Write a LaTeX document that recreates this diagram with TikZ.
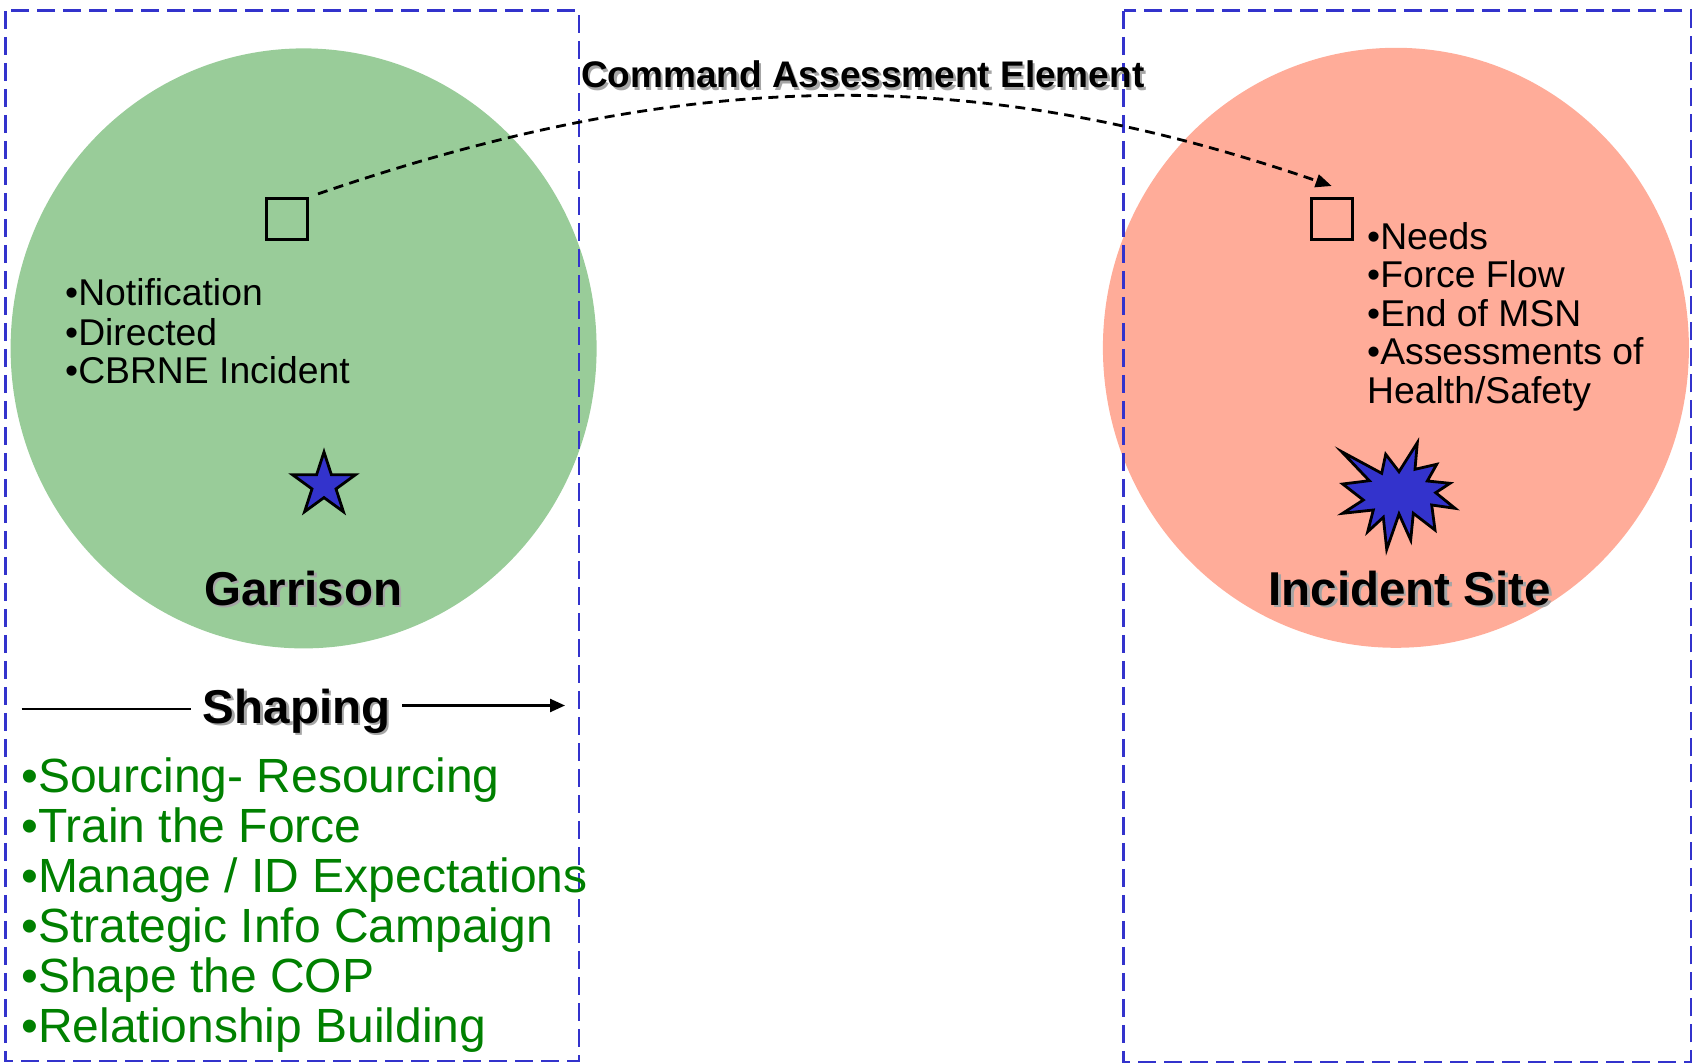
\documentclass[tikz,border=0pt]{standalone}
\usepackage{fontspec}
\setmainfont{Liberation Sans}
\usetikzlibrary{arrows.meta}
\definecolor{boxblue}{RGB}{51,51,204}
\definecolor{garrgreen}{RGB}{153,204,153}
\definecolor{incsalmon}{RGB}{255,172,153}
\definecolor{listgreen}{RGB}{0,128,0}
\definecolor{shadowgray}{RGB}{165,165,165}
\definecolor{burstblue}{RGB}{51,51,204}
\newcommand{\shadowed}[1]{\rlap{\kern2.5pt\raisebox{-2.5pt}{\textcolor{shadowgray}{#1}}}#1}
\begin{document}
\begin{tikzpicture}[x=1pt,y=-1pt,
  zone/.style={draw=boxblue, line width=2.6pt, dash pattern=on 18pt off 8pt},
  cam/.style={draw=black, line width=3pt, rectangle, minimum size=41pt, inner sep=0pt},
  smalltext/.style={anchor=base west, inner sep=0pt, font=\fontsize{37.3}{38}\selectfont},
  greenlist/.style={anchor=base west, inner sep=0pt, text=listgreen, font=\fontsize{48}{50}\selectfont},
  heading/.style={anchor=base, inner sep=0pt, font=\fontsize{47.5}{50}\selectfont\bfseries},
  titletext/.style={anchor=base, inner sep=0pt, font=\fontsize{37}{40}\selectfont\bfseries},
  blast/.style={draw=black, fill=burstblue, line width=2.8pt, line join=miter},
  flow/.style={draw=black, line width=2.8pt, dash pattern=on 10pt off 6.5pt, -{Triangle[length=16pt,width=13pt]}},
  shapeline/.style={draw=black, line width=2.4pt}
]
\useasboundingbox (0,0) rectangle (1694,1064);

% circles
\fill[garrgreen] (303.6,348.4) ellipse [x radius=293pt, y radius=300pt];
\fill[incsalmon] (1395.9,347.8) ellipse [x radius=293pt, y radius=300pt];

% dashed zones
\draw[zone] (5.4,10.8) rectangle (579,1061);
\draw[zone] (1123.6,10.8) rectangle (1690.8,1062);

% squares
\node[cam] (camL) at (287,218.9) {};
\node[cam] (camR) at (1331.7,219.5) {};

% star
\draw[blast] (324,452) -- (331.4,474.8) -- (355.4,474.8) -- (336.0,488.9) -- (343.4,511.7)
  -- (324,497.6) -- (304.6,511.7) -- (312.0,488.9) -- (292.6,474.8) -- (316.6,474.8) -- cycle;

% starburst
\draw[blast] (1341.7,451.7) -- (1381.7,473.3) -- (1385.7,454.3) -- (1399,471.7) -- (1417.3,442.7)
  -- (1415,469.3) -- (1436.7,464.3) -- (1427.3,481) -- (1450,483.3) -- (1435.7,492.7)
  -- (1455,508.3) -- (1431.7,505) -- (1435,530) -- (1413.3,513.3) -- (1410.7,540)
  -- (1399,514) -- (1386.7,549.3) -- (1383.3,517.3) -- (1367.7,531.7) -- (1373.3,510)
  -- (1342.7,513.3) -- (1363.3,500) -- (1342.7,484) -- (1369.3,480.7) -- cycle;

% title and arc
\node[titletext] (cae) at (862.7,88) {\shadowed{Command Assessment Element}};
\draw[flow] ([xshift=9pt,yshift=3pt]camL.north east) .. controls (694,64.7) and (979,64.7) .. ([yshift=11.5pt]camR.north);

% left small list
\node[smalltext] (n1) at (65,306) {•Notification};
\node[smalltext] (n2) at (65,345) {•Directed};
\node[smalltext] (n3) at (65,383.5) {•CBRNE Incident};

% right small list
\node[smalltext] (r1) at (1367,249.3) {•Needs};
\node[smalltext] (r2) at (1367,287.7) {•Force Flow};
\node[smalltext] (r3) at (1367,326.5) {•End of MSN};
\node[smalltext] (r4) at (1367,365) {•Assessments of};
\node[smalltext] (r5) at (1367,403) {Health/Safety};

% headings
\node[heading] (garrison) at (303.4,605) {\shadowed{Garrison}};
\node[heading] (incident) at (1409.8,605) {\shadowed{Incident Site}};
\node[heading] (shaping) at (296.6,723) {\shadowed{Shaping}};

% shaping arrow
\coordinate (sL1) at (21.6,709);
\coordinate (sL2) at (191,709);
\coordinate (sR1) at (402,705.5);
\coordinate (sR2) at (565,705.5);
\draw[shapeline] (sL1) -- (sL2);
\draw[shapeline, -{Triangle[length=15pt,width=13pt]}] (sR1) -- (sR2);

% green list
\node[greenlist] (g1) at (21,792) {•Sourcing- Resourcing};
\node[greenlist] (g2) at (21,842) {•Train the Force};
\node[greenlist] (g3) at (21,892) {•Manage / ID Expectations};
\node[greenlist] (g4) at (21,942) {•Strategic Info Campaign};
\node[greenlist] (g5) at (21,992) {•Shape the COP};
\node[greenlist] (g6) at (21,1042) {•Relationship Building};
\end{tikzpicture}
\end{document}
